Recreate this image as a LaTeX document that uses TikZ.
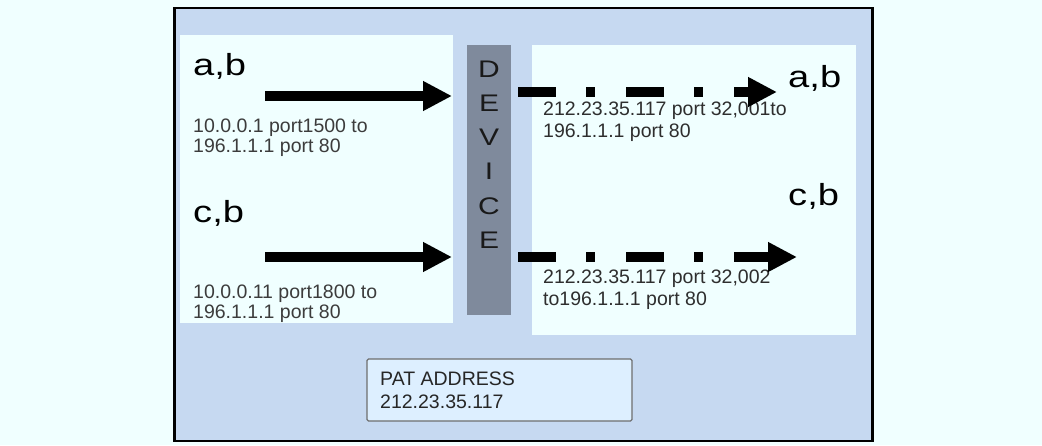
\documentclass[tikz,border=0pt]{standalone}
\usepackage{fontspec}
\usepackage{graphicx}
\setmainfont{Liberation Sans}
\usetikzlibrary{arrows.meta}

\definecolor{pagebg}{HTML}{F0FFFF}
\definecolor{framefill}{HTML}{C6D9F1}
\definecolor{panelfill}{HTML}{F0FFFF}
\definecolor{devicefill}{HTML}{7F8A9C}
\definecolor{patfill}{HTML}{DDEFFF}
\definecolor{patborder}{HTML}{6E6E6E}
\definecolor{smalltext}{HTML}{3C3C3C}
\definecolor{righttext}{HTML}{2E2E2E}

\tikzset{
  box/.style={draw=none, inner sep=0pt, outer sep=0pt, anchor=north west},
  framebox/.style={box, draw=black, line width=2.5pt, fill=framefill},
  panel/.style={box, fill=panelfill},
  devicebar/.style={box, fill=devicefill},
  patbox/.style={box, draw=patborder, line width=1.3pt, fill=patfill, rounded corners=1.5pt},
  biglabel/.style={inner sep=0pt, anchor=base west, font=\fontsize{30.5}{36}\selectfont},
  devletter/.style={inner sep=0pt, text=black!90, font=\fontsize{24}{28}\selectfont},
  addr/.style={inner sep=0pt, anchor=base west, text=smalltext, font=\fontsize{19.5}{20}\selectfont},
  addrR/.style={addr, text=righttext},
  flow/.style={line width=10pt, -{Triangle[length=29pt,width=28pt]}},
  natflow/.style={flow, dash pattern=on 38pt off 30pt on 9pt off 31pt}
}

\newcommand{\wide}[1]{\scalebox{1.25}[1]{#1}}

\begin{document}
\begin{tikzpicture}[x=1pt,y=-1pt]
  \useasboundingbox (0,0) rectangle (1042,445);
  \fill[pagebg] (0,0) rectangle (1042,445);

  % outer frame and its panels
  \node[framebox, minimum width=698pt, minimum height=433pt] (frame) at (174.5,8) {};
  \node[panel, minimum width=273pt, minimum height=288pt] (inside) at (180,35) {};
  \node[panel, minimum width=324pt, minimum height=290pt] (outside) at (532,45) {};
  \node[devicebar, minimum width=44pt, minimum height=270pt] (device) at (467,45) {};
  \node[patbox, minimum width=265pt, minimum height=62pt] (pat) at (367,359) {};

  % DEVICE written down the bar
  \foreach \l [count=\i from 0] in {D,E,V,I,C,E}
    \node[devletter] (dev\i) at (489,{69+34.2*\i}) {\wide{\l}};

  % inside hosts (text stays within the inside panel)
  \begin{scope}
    \clip (inside.north west) rectangle (inside.south east);
    \node[biglabel] (ab) at (193,75) {\wide{a,b}};
    \node[addr] (abA) at (193,132) {10.0.0.1 port1500 to};
    \node[addr] (abB) at (193,152) {196.1.1.1 port 80};
    \node[biglabel] (cb) at (193,222) {\wide{c,b}};
    \node[addr] (cbA) at (193,298) {10.0.0.11 port1800 to};
    \node[addr] (cbB) at (193,318) {196.1.1.1 port 80};
  \end{scope}

  % translated side
  \node[biglabel] (abR) at (788,87) {\wide{a,b}};
  \node[addrR] (abRA) at (543,115) {212.23.35.117 port 32,001to};
  \node[addrR] (abRB) at (543,137) {196.1.1.1 port 80};
  \node[biglabel] (cbR) at (788,205) {\wide{c,b}};
  \node[addrR] (cbRA) at (543,283) {212.23.35.117 port 32,002};
  \node[addrR] (cbRB) at (543,305) {to196.1.1.1 port 80};

  % PAT address box text
  \node[addr, text=black!85] (patA) at (380,385) {PAT ADDRESS};
  \node[addr, text=black!85] (patB) at (380,408) {212.23.35.117};

  % flows through the device
  \coordinate (inTop) at (265,96);
  \coordinate (inBot) at (265,257);
  \coordinate (outTopStart) at (518,92);
  \coordinate (outTopEnd) at (777,92);
  \coordinate (outBotStart) at (518,257);
  \coordinate (outBotEnd) at (797,257);

  \draw[flow, shorten >=15pt] (inTop) -- (inTop -| device.west);
  \draw[flow, shorten >=15pt] (inBot) -- (inBot -| device.west);
  \draw[natflow] (outTopStart) -- (outTopEnd);
  \draw[natflow] (outBotStart) -- (outBotEnd);
\end{tikzpicture}
\end{document}
